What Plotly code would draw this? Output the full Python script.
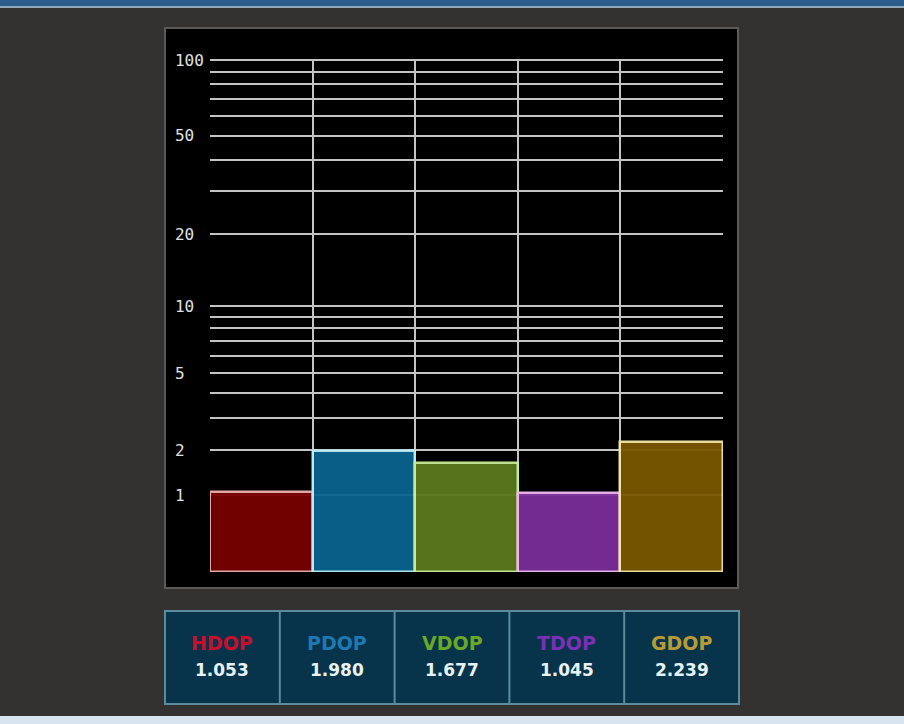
import math
import plotly.graph_objects as go

# ---- data ----
labels = ["HDOP", "PDOP", "VDOP", "TDOP", "GDOP"]
values = [1.053, 1.980, 1.677, 1.045, 2.239]
bar_colors = ["#780000", "#0a6490", "#5a7a1c", "#7a2e9a", "#7a5800"]
edge_colors = ["#f0b0b0", "#b8eef6", "#c8ee98", "#f0b8f0", "#f6e6a8"]
label_colors = ["#c8102e", "#2078b0", "#6aa828", "#7a30b8", "#b89a38"]
tick_labels = [1, 2, 5, 10, 20, 50, 100]
grid_values = [1, 2, 3, 4, 5, 6, 7, 8, 9, 10, 20, 30, 40, 50, 60, 70, 80, 90, 100]

W, H = 904, 724


def tr(v):
    # axis scale used by the chart: log10(1 + v)
    return math.log10(1 + v)


def px(xp):
    return xp / W


def py(yp):
    return (H - yp) / H


xs = list(range(len(labels)))

fig = go.Figure()
fig.add_trace(go.Bar(
    x=xs,
    y=[tr(v) for v in values],
    width=1.0,
    marker=dict(color=bar_colors, line=dict(color=edge_colors, width=2.5)),
    opacity=0.95,
    hoverinfo="skip",
))

ticktext = []
for g in grid_values:
    if g in tick_labels:
        s = str(g)
        ticktext.append(s + "\u00a0" * (3 - len(s)))
    else:
        ticktext.append("")

shapes = [
    # black chart panel
    dict(type="rect", xref="paper", yref="paper", x0=px(165), x1=px(738), y0=py(588), y1=py(28),
         fillcolor="#000000", line=dict(color="#5a5a5a", width=2), layer="below"),
    # bottom info panel
    dict(type="rect", xref="paper", yref="paper", x0=px(165), x1=px(739), y0=py(704), y1=py(611),
         fillcolor="#07334b", line=dict(color="#5a8c9c", width=2), layer="below"),
    # top window strip
    dict(type="rect", xref="paper", yref="paper", x0=0, x1=1, y0=py(6), y1=1,
         fillcolor="#2c5c8c", line=dict(width=0), layer="below"),
    dict(type="rect", xref="paper", yref="paper", x0=0, x1=1, y0=py(8), y1=py(6),
         fillcolor="#90a8bc", line=dict(width=0), layer="below"),
    # bottom window strip
    dict(type="rect", xref="paper", yref="paper", x0=0, x1=1, y0=0, y1=py(716),
         fillcolor="#d8e4ee", line=dict(width=0), layer="below"),
]

annotations = []
n = len(labels)
left, right = 165, 739
cw = (right - left) / n
for i in range(1, n):
    xline = left + i * cw
    shapes.append(dict(type="line", xref="paper", yref="paper", x0=px(xline), x1=px(xline),
                       y0=py(704), y1=py(611), line=dict(color="#5a8c9c", width=2), layer="below"))
for i, (lab, v) in enumerate(zip(labels, values)):
    cx = left + (i + 0.5) * cw
    annotations.append(dict(xref="paper", yref="paper", x=px(cx), y=py(643), text=f"<b>{lab}</b>",
                            showarrow=False, xanchor="center", yanchor="middle",
                            font=dict(family="DejaVu Sans", size=19, color=label_colors[i])))
    annotations.append(dict(xref="paper", yref="paper", x=px(cx), y=py(670), text=f"<b>{v:.3f}</b>",
                            showarrow=False, xanchor="center", yanchor="middle",
                            font=dict(family="DejaVu Sans", size=17, color="#e8f2f4")))

top = tr(100) + 0.004

fig.update_layout(
    width=W, height=H,
    autosize=False,
    margin=dict(l=0, r=0, t=0, b=0, pad=0, autoexpand=False),
    paper_bgcolor="#333231",
    plot_bgcolor="#000000",
    showlegend=False,
    bargap=0,
    shapes=shapes,
    annotations=annotations,
    xaxis=dict(
        domain=[px(210), px(723)],
        range=[-0.5, n - 0.5],
        tickvals=[i - 0.5 for i in range(n + 1)],
        showticklabels=False,
        showgrid=True, gridcolor="#c4c4c4", gridwidth=2,
        zeroline=False, showline=False, ticks="",
        fixedrange=True, automargin=False,
    ),
    yaxis=dict(
        domain=[py(572), py(572 - 512 * top / tr(100))],
        range=[0, top],
        tickvals=[tr(g) for g in grid_values],
        ticktext=ticktext,
        tickfont=dict(family="DejaVu Sans Mono", size=16, color="#e0e0e0"),
        showgrid=True, gridcolor="#c4c4c4", gridwidth=2,
        zeroline=False, showline=False,
        ticks="outside", ticklen=2, tickcolor="#000000",
        fixedrange=True, automargin=False,
    ),
)

fig.write_html(
    "out.html",
    config={"displayModeBar": False, "responsive": False},
    post_script="document.body.style.margin='0';document.body.style.overflow='hidden';",
)
